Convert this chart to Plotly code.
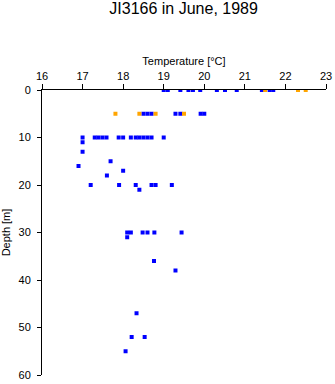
import plotly.graph_objects as go

# Blue cast values
blue_temp = [19.0, 19.1, 19.41, 19.61, 19.72, 19.9, 20.31, 20.51, 20.8, 21.42, 21.61, 21.7,
             18.5, 18.6, 18.7, 19.29, 19.41, 19.91, 20.0,
             17.0, 17.3, 17.39, 17.49, 17.59, 17.89, 18.0, 18.19, 18.31, 18.4, 18.5, 18.6, 18.7, 19.0,
             17.0, 17.0, 17.69, 16.9, 18.0, 17.6,
             17.2, 17.9, 18.31, 18.7, 18.8, 19.2, 18.4,
             18.1, 18.19, 18.48, 18.6, 18.77, 19.44, 18.1,
             18.76, 19.29, 18.33, 18.21, 18.53, 18.06]
blue_depth = [0, 0, 0, 0, 0, 0, 0, 0, 0, 0, 0, 0,
              5, 5, 5, 5, 5, 5, 5,
              10, 10, 10, 10, 10, 10, 10, 10, 10, 10, 10, 10, 10, 10,
              11, 13, 15, 16, 17, 18,
              20, 20, 20, 20, 20, 20, 21,
              30, 30, 30, 30, 30, 30, 31,
              36, 38, 47, 52, 52, 55]

# Orange cast values
orange_temp = [21.5, 22.31, 22.5, 17.81, 18.4, 18.8, 19.5]
orange_depth = [0, 0, 0, 5, 5, 5, 5]

x_ticks = [16, 17, 18, 19, 20, 21, 22, 23]
y_ticks = [0, 10, 20, 30, 40, 50, 60]

font = "Liberation Sans, Arial, sans-serif"

fig = go.Figure()
fig.add_trace(go.Scatter(x=blue_temp, y=blue_depth, mode="markers",
                         marker=dict(symbol="square", size=4, color="#0000ff", line=dict(width=0)),
                         showlegend=False))
fig.add_trace(go.Scatter(x=orange_temp, y=orange_depth, mode="markers",
                         marker=dict(symbol="square", size=4, color="#ffa500", line=dict(width=0)),
                         showlegend=False))

fig.update_layout(
    width=335, height=384,
    margin=dict(l=42, r=9, t=90, b=9),
    paper_bgcolor="white", plot_bgcolor="white",
    font=dict(family=font, size=11, color="black"),
    title=dict(text="JI3166 in June, 1989", x=0.548, xanchor="center", y=0.978, yanchor="middle",
               font=dict(size=16, family=font, color="black")),
    xaxis=dict(side="top", range=[16, 23], tickvals=x_ticks, ticks="outside", ticklen=5,
               tickcolor="black", showline=True, linecolor="black", linewidth=1,
               showgrid=False, zeroline=False, automargin=False,
               title=dict(text="Temperature [°C]", standoff=1, font=dict(size=11))),
    yaxis=dict(range=[60, 0], tickvals=y_ticks, ticks="outside", ticklen=4,
               tickcolor="black", showline=True, linecolor="black", linewidth=1,
               showgrid=False, zeroline=False, ticklabelstandoff=4, automargin=False,
               title=dict(text="Depth [m]", standoff=6, font=dict(size=11))),
)

fig.write_html("out.html")
